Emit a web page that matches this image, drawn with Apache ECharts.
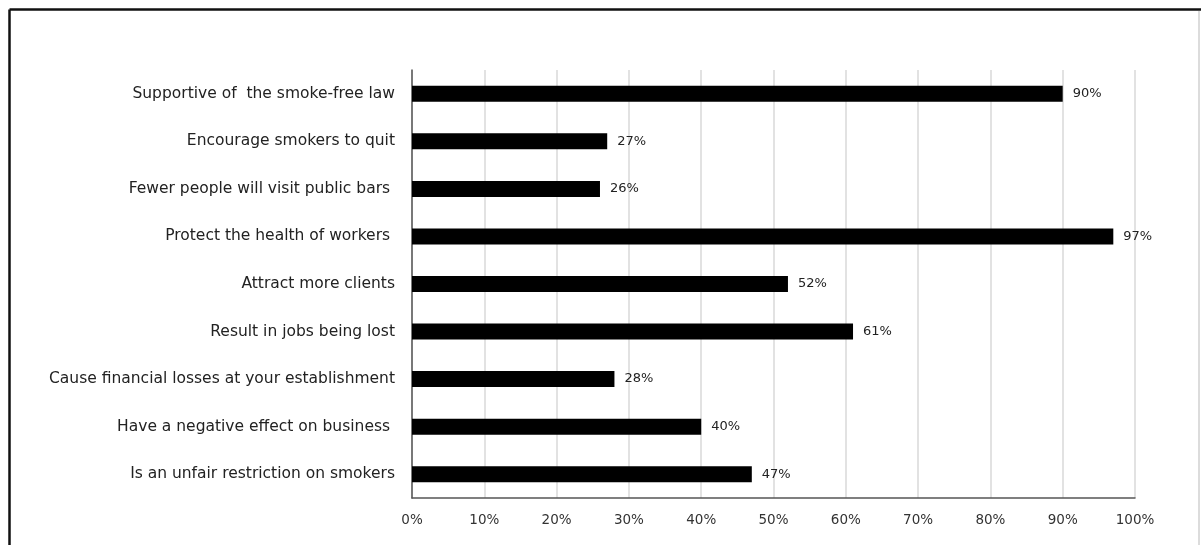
<!DOCTYPE html>
<html><head><meta charset="utf-8">
<script src="https://cdn.jsdelivr.net/npm/echarts@6/dist/echarts.min.js"></script>
<style>html,body{margin:0;padding:0;background:#fff}#c{width:1201px;height:545px}</style>
</head><body><div id="c"></div>
<script>
const categories = [
  "Supportive of  the smoke-free law",
  "Encourage smokers to quit",
  "Fewer people will visit public bars ",
  "Protect the health of workers ",
  "Attract more clients",
  "Result in jobs being lost",
  "Cause financial losses at your establishment",
  "Have a negative effect on business ",
  "Is an unfair restriction on smokers"
];
const values = [90, 27, 26, 97, 52, 61, 28, 40, 47];
const FONT = "DejaVu Sans";
const chart = echarts.init(document.getElementById('c'), null, {renderer: 'canvas'});
chart.setOption({
  animation: false,
  backgroundColor: '#fff',
  graphic: [
    {type: 'line', shape: {x1: 9.5, y1: 9.5, x2: 1201, y2: 9.5}, style: {stroke: '#111', lineWidth: 2.5}},
    {type: 'line', shape: {x1: 9.5, y1: 9.5, x2: 9.5, y2: 545}, style: {stroke: '#111', lineWidth: 2.5}},
    {type: 'line', shape: {x1: 1199, y1: 11, x2: 1199, y2: 545}, style: {stroke: '#d0d0d0', lineWidth: 1.5}}
  ],
  grid: {left: 412, right: 66, top: 70, bottom: 47, containLabel: false},
  xAxis: {
    type: 'value', min: 0, max: 100, interval: 10,
    axisLabel: {formatter: '{value}%', color: '#333', fontFamily: FONT, fontSize: 13.5, margin: 15},
    axisLine: {show: true, lineStyle: {color: '#555', width: 1.5}},
    axisTick: {show: false},
    splitLine: {show: true, lineStyle: {color: '#d9d9d9', width: 1.5}}
  },
  yAxis: {
    type: 'category', data: categories, inverse: true,
    axisLabel: {color: '#222', fontFamily: FONT, fontSize: 15.5, margin: 17},
    axisLine: {show: true, lineStyle: {color: '#555', width: 1.5}},
    axisTick: {show: false}
  },
  series: [{
    type: 'bar', data: values, barWidth: 16,
    itemStyle: {color: '#000'},
    label: {show: true, position: 'right', formatter: '{c}%', color: '#222', fontFamily: FONT, fontSize: 13, distance: 10}
  }]
});
</script></body></html>
